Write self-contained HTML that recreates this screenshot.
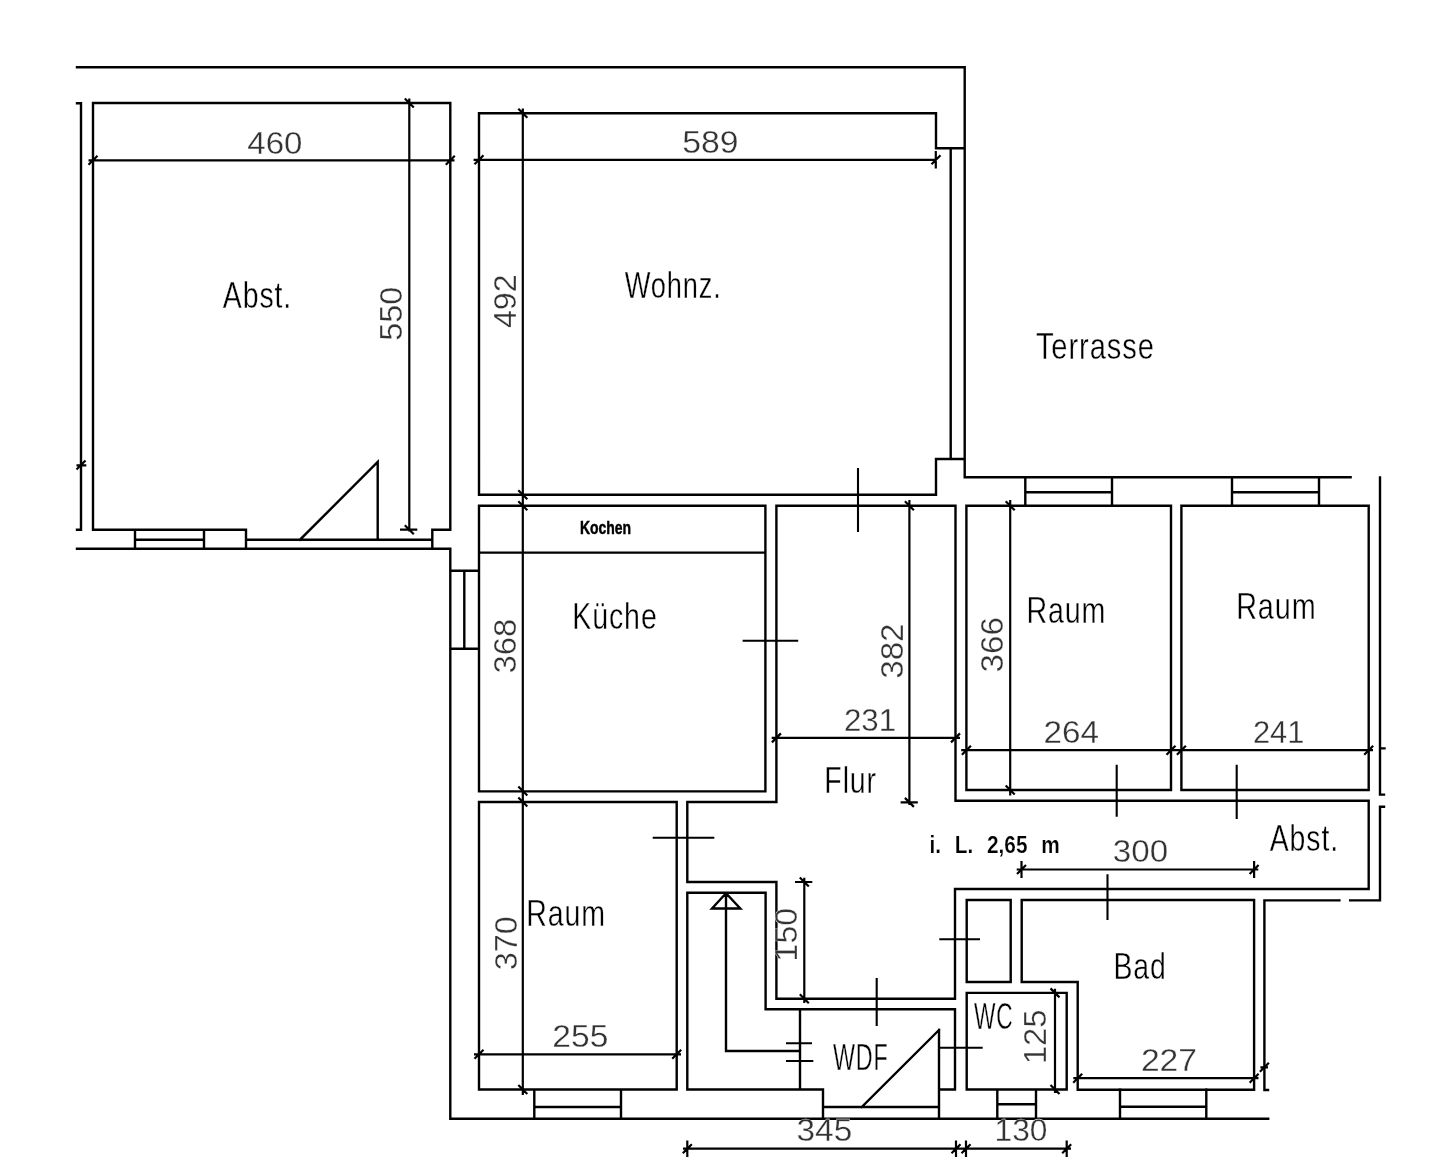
<!DOCTYPE html>
<html lang="de"><head><meta charset="utf-8"><title>Grundriss</title>
<style>
html,body{margin:0;padding:0;background:#fff}
svg{display:block;will-change:transform}
text{font-family:"Liberation Sans",sans-serif}
.w{fill:none;stroke:#000;stroke-width:2.4;stroke-linecap:square;stroke-linejoin:miter}
.d{fill:none;stroke:#000;stroke-width:2.2;stroke-linecap:butt}
.m{fill:none;stroke:#000;stroke-width:2.1;stroke-linecap:butt}
.lbl{fill:#000;letter-spacing:1.2px;stroke:#fff;stroke-width:0.4}
.bld{fill:#000;font-weight:bold;stroke:#000;stroke-width:0.5}
.il{stroke:#fff;stroke-width:0.2}
.dim{fill:#333;stroke:#fff;stroke-width:0.3}
</style></head><body>
<svg width="1440" height="1164" viewBox="0 0 1440 1164">
<rect width="1440" height="1164" fill="#fff"/>
<path class="w" d="M77 67.3 L964.7 67.3 L964.7 477.3 L1350.6 477.3 M936 148.3 H964.7 M77 103.3 L81 103.3 L81 529.7 L77 529.7 M246 529.7 L93 529.7 L93 103 L450.3 103 L450.3 529.7 L432.3 529.7 L432.3 548.7 M135 529.7 V548.7 M204 529.7 V548.7 M246 529.7 V548.7 M135 539.7 H204 M246 539.7 H432.3 M77 548.7 H450.3 M450.3 548.7 V1118.7 M300 539.7 L377.7 462 L377.7 539.7 M479 494.7 L479 113.3 L936 113.3 L936 148.3 M479 494.7 L936 494.7 L936 459 L964.7 459 M950.7 148.3 V459 M479 505.7 L765.4 505.7 L765.4 791.4 L479 791.4 Z M479 552.6 H765.4 M450.3 570.7 L479 570.7 M464.3 570.7 V648.7 M450.3 648.7 L479 648.7 M776.4 505.7 L955.5 505.7 L955.5 800.8 L1368.7 800.8 L1368.7 889 L955 889 L955 998.7 L776.4 998.7 L776.4 882 L687.3 882 L687.3 802 L776.4 802 Z M966.4 505.7 L1171 505.7 L1171 790 L966.4 790 Z M1181.4 505.7 L1368.7 505.7 L1368.7 790 L1181.4 790 Z M1025.3 477.3 V505.7 M1112 477.3 V505.7 M1025.3 492.3 H1112 M1232 477.3 V505.7 M1319 477.3 V505.7 M1232 492.3 H1319 M1380 477.4 L1380 794.6 L1384 794.6 M1380 748.4 H1384.5 M1384 806.8 L1380 806.8 L1380 900.4 L1350.2 900.4 M1339.4 900.4 L1264.4 900.4 L1264.4 1090 L1268 1090 M479 802 L676.7 802 L676.7 1089.5 L479 1089.5 Z M534.3 1089.5 V1118.7 M621 1089.5 V1118.7 M534.3 1107 H621 M823 1118.7 L823 1089.5 L687.3 1089.5 L687.3 892.7 L765.6 892.7 L765.6 1009.3 L955 1009.3 L955 1089.5 L939 1089.5 M800 1009.3 V1089.5 M726 892.7 L726 1051 L800 1051 M726 893.2 L712 908.5 L740.3 908.5 Z M939 1030 V1118.7 M861.7 1107 L939 1030 M823 1107 H939 M966.7 900 L1010.7 900 L1010.7 982 L966.7 982 Z M966.7 992.9 L1066.7 992.9 L1066.7 1089.5 L966.7 1089.5 Z M1021.7 900 L1254.1 900 L1254.1 1089.7 L1077.7 1089.7 L1077.7 982 L1021.7 982 Z M997.3 1089.5 V1118.7 M1036 1089.5 V1118.7 M997.3 1104.3 H1036 M1120 1089.5 V1118.7 M1206.3 1089.5 V1118.7 M1120 1106.8 H1206.3 M450.3 1118.7 H1268.2"/>
<path class="d" d="M76.5 469.5 L85.5 460.5 M76.5 465.3 H86.3 M88.5 160.3 H454.5 M88.5 164.8 L97.5 155.8 M445.8 164.8 L454.8 155.8 M409.3 98.5 V531.5 M404.8 98.5 L413.8 107.5 M404.8 525.2 L413.8 534.2 M400 529.7 H417.3 M473.6 159.8 H936.8 M474.5 164.3 L483.5 155.3 M931.5 164.3 L940.5 155.3 M935.8 151 V168.5 M522.8 108.5 V1095 M518.3 108.8 L527.3 117.8 M518.3 490.2 L527.3 499.2 M518.3 501.2 L527.3 510.2 M518.3 786.5 L527.3 795.5 M518.3 797.5 L527.3 806.5 M518.3 1085 L527.3 1094 M909.4 500 V805 M904.9 501.2 L913.9 510.2 M904.9 797.9 L913.9 806.9 M900.6 802.4 H917.8 M771.7 737.9 H960 M771.9 742.4 L780.9 733.4 M951 742.4 L960 733.4 M1010.2 500 V795.4 M1005.7 501.2 L1014.7 510.2 M1005.7 785.5 L1014.7 794.5 M961.2 750.2 H1373 M961.9 754.7 L970.9 745.7 M1166.5 754.7 L1175.5 745.7 M1176.9 754.7 L1185.9 745.7 M1364.2 754.7 L1373.2 745.7 M1259.9 1071.8 L1268.9 1062.8 M1260.4 1067.3 H1268 M474 1054.3 H681 M474.5 1058.8 L483.5 1049.8 M672.2 1058.8 L681.2 1049.8 M804.3 877.7 V1003 M799.8 877.5 L808.8 886.5 M799.8 994.2 L808.8 1003.2 M795 882 H812.3 M1016.7 869.5 H1258.3 M1017 874 L1026 865 M1249.6 874 L1258.6 865 M1021.5 861 V878 M1254.1 861 V878 M1055 988.7 V1093 M1050.5 988.4 L1059.5 997.4 M1050.5 1085 L1059.5 1094 M1073.3 1078.2 H1258.5 M1073.2 1082.7 L1082.2 1073.7 M1249.6 1082.7 L1258.6 1073.7 M683 1148.7 H1071 M682.8 1153.2 L691.8 1144.2 M951.5 1153.2 L960.5 1144.2 M961.5 1153.2 L970.5 1144.2 M1062.2 1153.2 L1071.2 1144.2 M687.3 1140.5 V1157 M956 1140.5 V1157 M966 1140.5 V1157 M1066.7 1140.5 V1157"/>
<path class="m" d="M742.6 640.8 H798.2 M858 468 V532 M1116.7 764.7 V816.7 M1236.7 764.7 V819 M652.7 837.7 H714.3 M786 1043.3 H812 M786 1061 H813.3 M876.7 978 V1026 M939.3 939.3 H980 M939 1047.7 H982.7 M1107.5 874.3 V920"/>
<g>
<text class="lbl" x="222.85" y="307.65" font-size="37.80" textLength="69.26" lengthAdjust="spacingAndGlyphs">Abst.</text>
<text class="lbl" x="624.75" y="297.90" font-size="37.80" textLength="97.00" lengthAdjust="spacingAndGlyphs">Wohnz.</text>
<text class="lbl" x="1035.90" y="358.60" font-size="37.80" textLength="118.86" lengthAdjust="spacingAndGlyphs">Terrasse</text>
<text class="lbl" x="572.20" y="628.50" font-size="37.80" textLength="85.48" lengthAdjust="spacingAndGlyphs">Küche</text>
<text class="lbl" x="1026.45" y="623.35" font-size="37.80" textLength="79.91" lengthAdjust="spacingAndGlyphs">Raum</text>
<text class="lbl" x="1236.15" y="619.25" font-size="37.80" textLength="80.45" lengthAdjust="spacingAndGlyphs">Raum</text>
<text class="lbl" x="824.35" y="792.95" font-size="37.80" textLength="52.66" lengthAdjust="spacingAndGlyphs">Flur</text>
<text class="lbl" x="1269.75" y="851.45" font-size="37.80" textLength="69.23" lengthAdjust="spacingAndGlyphs">Abst.</text>
<text class="lbl" x="526.15" y="926.25" font-size="37.80" textLength="79.80" lengthAdjust="spacingAndGlyphs">Raum</text>
<text class="lbl" x="1113.45" y="978.80" font-size="37.80" textLength="53.35" lengthAdjust="spacingAndGlyphs">Bad</text>
<text class="lbl" x="974.10" y="1028.80" font-size="37.80" textLength="39.35" lengthAdjust="spacingAndGlyphs">WC</text>
<text class="lbl" x="833.10" y="1069.75" font-size="37.80" textLength="55.34" lengthAdjust="spacingAndGlyphs">WDF</text>
<text class="bld" x="579.95" y="534.30" font-size="18.70" textLength="51.17" lengthAdjust="spacingAndGlyphs">Kochen</text>
<text class="bld il" x="929.50" y="853" font-size="23.6" word-spacing="9" textLength="130.23" lengthAdjust="spacingAndGlyphs">i. L. 2,65 m</text>
<text class="dim" x="247.35" y="154.00" font-size="31.40" textLength="55.14" lengthAdjust="spacingAndGlyphs">460</text>
<text class="dim" x="682.25" y="152.65" font-size="31.40" textLength="56.35" lengthAdjust="spacingAndGlyphs">589</text>
<text class="dim" x="843.90" y="731.35" font-size="31.40" textLength="52.18" lengthAdjust="spacingAndGlyphs">231</text>
<text class="dim" x="1043.45" y="743.25" font-size="31.40" textLength="55.52" lengthAdjust="spacingAndGlyphs">264</text>
<text class="dim" x="1252.95" y="743.40" font-size="31.40" textLength="51.42" lengthAdjust="spacingAndGlyphs">241</text>
<text class="dim" x="1112.85" y="861.50" font-size="31.40" textLength="55.29" lengthAdjust="spacingAndGlyphs">300</text>
<text class="dim" x="552.35" y="1047.00" font-size="31.40" textLength="56.01" lengthAdjust="spacingAndGlyphs">255</text>
<text class="dim" x="1140.90" y="1071.25" font-size="31.40" textLength="56.04" lengthAdjust="spacingAndGlyphs">227</text>
<text class="dim" x="796.50" y="1141.00" font-size="31.40" textLength="55.70" lengthAdjust="spacingAndGlyphs">345</text>
<text class="dim" x="994.60" y="1141.00" font-size="31.40" textLength="52.86" lengthAdjust="spacingAndGlyphs">130</text>
<text class="dim" transform="translate(402.40 340.85) rotate(-90)" font-size="31.40" textLength="53.98" lengthAdjust="spacingAndGlyphs">550</text>
<text class="dim" transform="translate(516.00 328.10) rotate(-90)" font-size="31.40" textLength="53.84" lengthAdjust="spacingAndGlyphs">492</text>
<text class="dim" transform="translate(515.75 673.50) rotate(-90)" font-size="31.40" textLength="54.86" lengthAdjust="spacingAndGlyphs">368</text>
<text class="dim" transform="translate(903.10 678.85) rotate(-90)" font-size="31.40" textLength="55.45" lengthAdjust="spacingAndGlyphs">382</text>
<text class="dim" transform="translate(1003.35 672.40) rotate(-90)" font-size="31.40" textLength="55.21" lengthAdjust="spacingAndGlyphs">366</text>
<text class="dim" transform="translate(516.65 970.15) rotate(-90)" font-size="31.40" textLength="53.98" lengthAdjust="spacingAndGlyphs">370</text>
<text class="dim" transform="translate(797.10 961.40) rotate(-90)" font-size="31.40" textLength="53.51" lengthAdjust="spacingAndGlyphs">150</text>
<text class="dim" transform="translate(1046.45 1064.25) rotate(-90)" font-size="31.40" textLength="54.72" lengthAdjust="spacingAndGlyphs">125</text>
</g>
</svg>
</body></html>
